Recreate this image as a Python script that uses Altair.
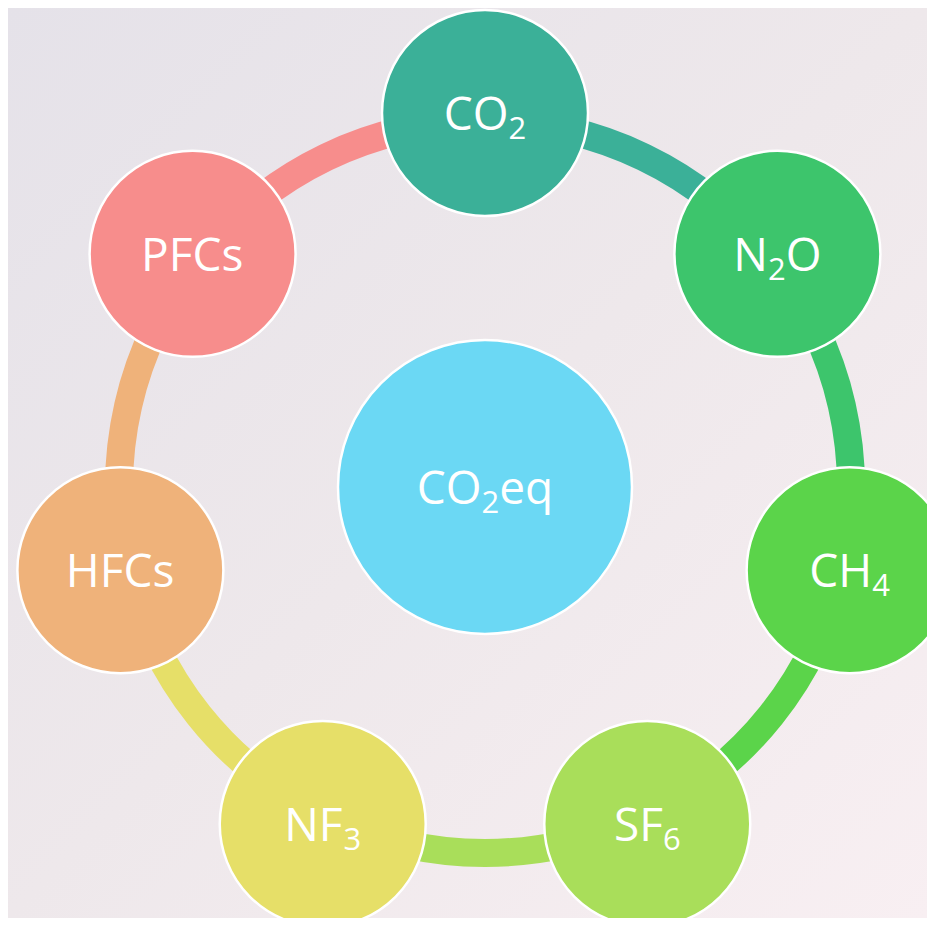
import math
import altair as alt
import pandas as pd

# ---- data ----
# label of each gas, split into main text / subscript / trailing text
main_txt = ["CO", "N", "CH", "SF", "NF", "HFCs", "PFCs"]
sub_txt = ["2", "2", "4", "6", "3", "", ""]
tail_txt = ["", "O", "", "", "", "", ""]
colors = ["#3bb098", "#3dc56c", "#5bd44a", "#a9de5a", "#e6df68", "#efb27a", "#f78d8c"]
center_parts = ["CO", "2", "eq"]
center_color = "#6bd8f4"

# ---- layout / style ----
W, H = 919, 910
CX, CY = 477, 479          # diagram centre in chart coordinates
R_NODE = 374
NODE_R = 103
CENTER_R = 147
RING_IN, RING_OUT = 352, 380
FONT = "Open Sans"
FS_MAIN, FS_SUB = 46, 31
BASE_SHIFT, SUB_DROP = 17, 9

# approximate Open Sans advance widths (em) used to lay out sub-scripted labels
ADV = {"C": .632, "O": .779, "N": .76, "H": .738, "F": .528, "P": .604, "S": .536,
       "s": .477, "e": .562, "q": .613}
def width(txt, fs):
    return sum(ADV.get(c, .572) for c in txt) * fs

n = len(main_txt)
step = 2 * math.pi / n
nodes = pd.DataFrame({"color": colors, "i": list(range(n))})
nodes["t0"] = nodes["i"] * step
nodes["t1"] = (nodes["i"] + 1) * step
nodes["r"] = R_NODE

rows = []
all_parts = list(zip(main_txt, sub_txt, tail_txt)) + [tuple(center_parts)]
for k, (m, s, t) in enumerate(all_parts):
    is_center = k == n
    theta = 0 if is_center else k * step
    r = 0 if is_center else R_NODE
    wm, ws, wt = width(m, FS_MAIN), width(s, FS_SUB), width(t, FS_MAIN)
    x0 = -(wm + ws + wt) / 2
    for txt, fs, sh, vs in [(m, FS_MAIN, x0, BASE_SHIFT),
                            (s, FS_SUB, x0 + wm, BASE_SHIFT + SUB_DROP),
                            (t, FS_MAIN, x0 + wm + ws, BASE_SHIFT)]:
        if txt:
            rows.append({"txt": txt, "fs": fs, "shift": sh, "vshift": vs, "t0": theta, "r": r})
segs = pd.DataFrame(rows)

xs = alt.Scale(domain=[-CX, W - CX], range=[0, W])
ys = alt.Scale(domain=[-CY, H - CY], range=[0, H])

bg = alt.Chart(pd.DataFrame({"a": [0]})).mark_rect(
    color=alt.Gradient(
        gradient="linear", x1=0, y1=0, x2=1, y2=1,
        stops=[alt.GradientStop(color="#e5e2e9", offset=0),
               alt.GradientStop(color="#eee8eb", offset=0.5),
               alt.GradientStop(color="#f8eff2", offset=1)],
    )
).encode(x=alt.value(0), x2=alt.value(W), y=alt.value(0), y2=alt.value(H))

ring = alt.Chart(nodes).mark_arc(
    innerRadius=RING_IN, outerRadius=RING_OUT
).encode(
    theta=alt.Theta("t0:Q", scale=None),
    theta2="t1:Q",
    color=alt.Color("color:N", scale=None),
    x=alt.value(CX), y=alt.value(CY),
)

node_circles = alt.Chart(nodes).transform_calculate(
    px="datum.r*sin(datum.t0)",
    py="-datum.r*cos(datum.t0)",
).mark_circle(
    size=(2 * NODE_R) ** 2, opacity=1, stroke="white", strokeWidth=2.5
).encode(
    x=alt.X("px:Q", scale=xs, axis=None),
    y=alt.Y("py:Q", scale=ys, axis=None),
    color=alt.Color("color:N", scale=None),
)

cdf = pd.DataFrame({"color": [center_color], "px": [0], "py": [0]})
center_circle = alt.Chart(cdf).mark_circle(
    size=(2 * CENTER_R) ** 2, opacity=1, stroke="white", strokeWidth=2.5
).encode(
    x=alt.X("px:Q", scale=xs, axis=None),
    y=alt.Y("py:Q", scale=ys, axis=None),
    color=alt.Color("color:N", scale=None),
)

texts = alt.Chart(segs).transform_calculate(
    px="datum.r*sin(datum.t0) + datum.shift",
    py="-datum.r*cos(datum.t0) + datum.vshift",
).mark_text(
    font=FONT, color="white", align="left", baseline="alphabetic"
).encode(
    x=alt.X("px:Q", scale=xs, axis=None),
    y=alt.Y("py:Q", scale=ys, axis=None),
    size=alt.Size("fs:Q", scale=None),
    text="txt:N",
)

chart = alt.layer(bg, ring, node_circles, center_circle, texts).properties(
    width=W, height=H, padding=0, autosize=alt.AutoSizeParams(type="none")
).configure_view(stroke=None)

chart.save("out.html", embed_options={"renderer": "svg", "actions": False})
